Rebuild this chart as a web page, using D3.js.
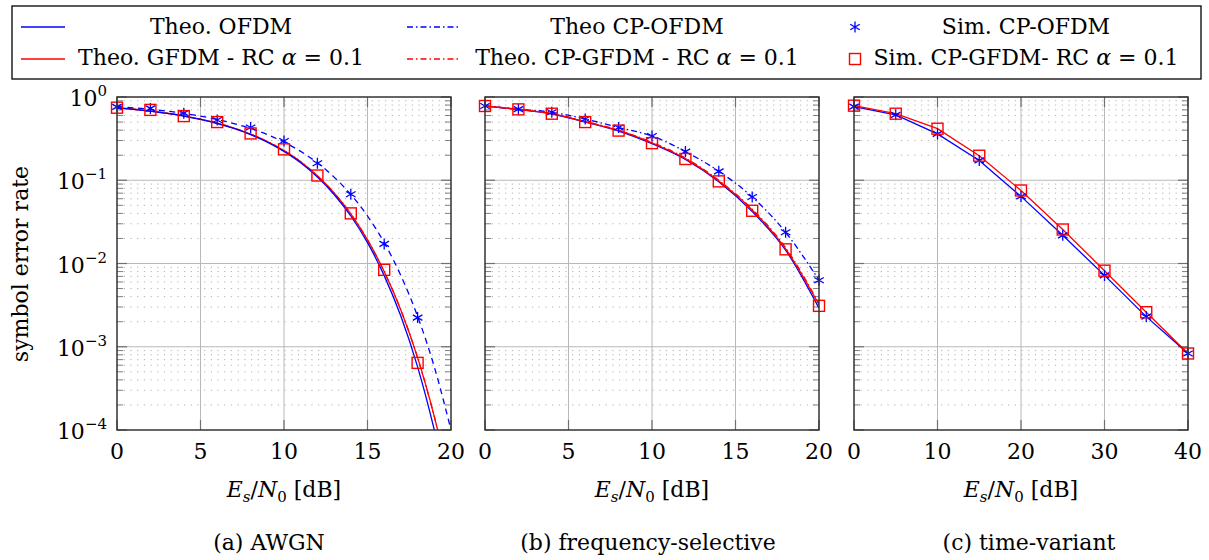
<!DOCTYPE html>
<html><head><meta charset="utf-8">
<script src="https://cdn.jsdelivr.net/npm/d3@7"></script>
<style>
body{margin:0;background:#fff}
svg{display:block}
text{font-family:"DejaVu Serif",serif;fill:#000}
</style>
</head><body>
<svg id="c" width="1209" height="560"></svg>
<script>
// ---------------- data ----------------
// (a) AWGN, 1 dB grid
const snrA = [0,1,2,3,4,5,6,7,8,9,10,11,12,13,14,15,16,17,18,19,20];
const theoOfdmA   = [0.741,0.710,0.675,0.635,0.589,0.537,0.480,0.419,0.354,0.287,0.222,0.162,0.109,0.0675,0.0372,0.0178,0.00715,0.00232,0.000574,0.000100,0.0000120];
const theoCpOfdmA = [0.768,0.741,0.710,0.675,0.635,0.589,0.537,0.480,0.419,0.354,0.287,0.222,0.162,0.109,0.0675,0.0372,0.0178,0.00715,0.00232,0.000574,0.000100];
const theoGfdmA   = [0.745,0.713,0.678,0.638,0.592,0.541,0.484,0.423,0.358,0.292,0.227,0.167,0.113,0.0705,0.0395,0.0192,0.0080,0.00275,0.00074,0.000145,0.000021];
const theoCpGfdmA = [0.745,0.713,0.678,0.638,0.592,0.541,0.484,0.423,0.358,0.292,0.227,0.167,0.113,0.0705,0.0395,0.0192,0.0080,0.00275,0.00074,0.000145,0.000021];
const simSnrA = [0,2,4,6,8,10,12,14,16,18];
const simCpOfdmA = [0.76,0.73,0.64,0.53,0.43,0.296,0.16,0.068,0.0172,0.00224];
const simCpGfdmA = [0.744,0.70,0.59,0.50,0.365,0.235,0.114,0.040,0.0084,0.00064];

// (b) frequency-selective, 2 dB grid
const snrB = [0,2,4,6,8,10,12,14,16,18,20];
const theoOfdmB   = [0.775,0.705,0.625,0.50,0.39,0.275,0.178,0.096,0.042,0.0145,0.0029];
const theoCpOfdmB = [0.78,0.715,0.656,0.545,0.43,0.34,0.221,0.128,0.063,0.0237,0.0063];
const theoGfdmB   = [0.78,0.71,0.63,0.505,0.397,0.281,0.182,0.098,0.044,0.0150,0.0032];
const theoCpGfdmB = [0.78,0.71,0.635,0.51,0.40,0.285,0.185,0.100,0.045,0.0155,0.0033];
const simCpOfdmB  = [0.78,0.715,0.656,0.545,0.43,0.34,0.221,0.128,0.063,0.0237,0.0063];
const simCpGfdmB  = [0.78,0.71,0.63,0.50,0.395,0.279,0.18,0.097,0.043,0.0148,0.0031];

// (c) time-variant, 5 dB grid
const snrC = [0,5,10,15,20,25,30,35,40];
const simCpOfdmC = [0.767,0.61,0.36,0.173,0.064,0.0218,0.0072,0.0023,0.00083];
const simCpGfdmC = [0.787,0.63,0.416,0.197,0.0753,0.0256,0.0082,0.0026,0.00083];

const xTicksAB = [0,5,10,15,20];
const xTicksC = [0,10,20,30,40];
const yDecades = [1e-4,1e-3,1e-2,1e-1,1];
const yTickExp = ["−4","−3","−2","−1","0"];
const captions = ["(a) AWGN","(b) frequency-selective","(c) time-variant"];

const BLUE = "#0000ff", RED = "#ff0000";
const svg = d3.select("#c");
const FS = 22, FSS = 15;

const yTop = 97, yBot = 430;
const y = d3.scaleLog().domain([1e-4,1]).range([yBot, yTop]);

const panels = [
  {left:117, right:451, domain:[0,20], ticks:xTicksAB, capX:269,
   lines:[
     {x:snrA, y:theoCpOfdmA, color:BLUE, dash:"6,4.5"},
     {x:snrA, y:theoGfdmA, color:RED, dash:null},
     {x:snrA, y:theoCpGfdmA, color:RED, dash:"6,3,1.5,3"},
     {x:snrA, y:theoOfdmA, color:BLUE, dash:null}
   ],
   stars:{x:simSnrA, y:simCpOfdmA}, squares:{x:simSnrA, y:simCpGfdmA}, curve:d3.curveMonotoneX},
  {left:485, right:819, domain:[0,20], ticks:xTicksAB, capX:648,
   lines:[
     {x:snrB, y:theoCpOfdmB, color:BLUE, dash:"6,3,1.5,3"},
     {x:snrB, y:theoOfdmB, color:BLUE, dash:null},
     {x:snrB, y:theoGfdmB, color:RED, dash:null},
     {x:snrB, y:theoCpGfdmB, color:RED, dash:"6,3,1.5,3"}
   ],
   stars:{x:snrB, y:simCpOfdmB}, squares:{x:snrB, y:simCpGfdmB}, curve:d3.curveMonotoneX},
  {left:854, right:1188, domain:[0,40], ticks:xTicksC, capX:1029,
   lines:[
     {x:snrC, y:simCpOfdmC, color:BLUE, dash:null},
     {x:snrC, y:simCpGfdmC, color:RED, dash:null}
   ],
   stars:{x:snrC, y:simCpOfdmC}, squares:{x:snrC, y:simCpGfdmC}, curve:d3.curveLinear}
];

function starPath(r){
  const a = Math.PI/6, c = Math.cos(a)*r, s = Math.sin(a)*r;
  return `M0,${-r}L0,${r}M${-c},${-s}L${c},${s}M${-c},${s}L${c},${-s}`;
}
function drawStar(g, cx, cy){
  g.append("path").attr("d", starPath(5.5)).attr("transform",`translate(${cx},${cy})`)
    .attr("stroke",BLUE).attr("stroke-width",1.3).attr("fill","none");
}
function drawSquare(g, cx, cy){
  g.append("rect").attr("x",cx-5.5).attr("y",cy-5.5).attr("width",11).attr("height",11)
    .attr("stroke",RED).attr("stroke-width",1.4).attr("fill","none");
}

panels.forEach((p, i) => {
  const x = d3.scaleLinear().domain(p.domain).range([p.left, p.right]);
  const g = svg.append("g");
  const minors = [];
  [-4,-3,-2,-1].forEach(e => { for (let m=2;m<=9;m++) minors.push(m*Math.pow(10,e)); });
  g.selectAll("line.minor").data(minors).enter().append("line")
    .attr("x1",p.left).attr("x2",p.right).attr("y1",d=>y(d)).attr("y2",d=>y(d))
    .attr("stroke","#b0b0b0").attr("stroke-width",1).attr("stroke-dasharray","1.2,5.5");
  g.selectAll("line.hmaj").data(yDecades.slice(1,4)).enter().append("line")
    .attr("x1",p.left).attr("x2",p.right).attr("y1",d=>y(d)).attr("y2",d=>y(d))
    .attr("stroke","#b8b8b8").attr("stroke-width",1);
  g.selectAll("line.vmaj").data(p.ticks.slice(1,-1)).enter().append("line")
    .attr("x1",d=>x(d)).attr("x2",d=>x(d)).attr("y1",yTop).attr("y2",yBot)
    .attr("stroke","#b8b8b8").attr("stroke-width",1);
  minors.forEach(v => {
    [[p.left,p.left+6],[p.right,p.right-6]].forEach(([a,b]) =>
      g.append("line").attr("x1",a).attr("x2",b).attr("y1",y(v)).attr("y2",y(v))
        .attr("stroke","#808080").attr("stroke-width",1));
  });
  yDecades.forEach(v => {
    [[p.left,p.left+10],[p.right,p.right-10]].forEach(([a,b]) =>
      g.append("line").attr("x1",a).attr("x2",b).attr("y1",y(v)).attr("y2",y(v))
        .attr("stroke","#707070").attr("stroke-width",1.2));
  });
  p.ticks.forEach(v => {
    [[yBot,yBot-10],[yTop,yTop+10]].forEach(([a,b]) =>
      g.append("line").attr("x1",x(v)).attr("x2",x(v)).attr("y1",a).attr("y2",b)
        .attr("stroke","#707070").attr("stroke-width",1.2));
  });
  const cid = "clip"+i;
  svg.append("clipPath").attr("id",cid).append("rect")
    .attr("x",p.left).attr("y",yTop).attr("width",p.right-p.left).attr("height",yBot-yTop);
  const lg = g.append("g").attr("clip-path",`url(#${cid})`);
  p.lines.forEach(L => {
    const pts = L.x.map((v,k)=>[v, L.y[k]]);
    const line = d3.line().x(d=>x(d[0])).y(d=>y(d[1])).curve(p.curve);
    lg.append("path").attr("d", line(pts)).attr("fill","none")
      .attr("stroke",L.color).attr("stroke-width",1.3)
      .attr("stroke-dasharray", L.dash);
  });
  p.stars.x.forEach((v,k) => drawStar(g, x(v), y(p.stars.y[k])));
  p.squares.x.forEach((v,k) => drawSquare(g, x(v), y(p.squares.y[k])));
  g.append("rect").attr("x",p.left).attr("y",yTop).attr("width",p.right-p.left).attr("height",yBot-yTop)
    .attr("fill","none").attr("stroke","#333").attr("stroke-width",1.5);
  g.selectAll("text.xt").data(p.ticks).enter().append("text")
    .attr("x",d=>x(d)).attr("y",459).attr("text-anchor","middle")
    .attr("font-size",FS).text(d=>d);
  const xt = g.append("text").attr("x",(p.left+p.right)/2).attr("y",497)
    .attr("text-anchor","middle").attr("font-size",FS);
  xt.append("tspan").attr("font-style","italic").text("E");
  xt.append("tspan").attr("font-style","italic").attr("font-size",FSS).attr("dy",5).text("s");
  xt.append("tspan").attr("dy",-5).text("/");
  xt.append("tspan").attr("font-style","italic").text("N");
  xt.append("tspan").attr("font-size",FSS).attr("dy",5).text("0");
  xt.append("tspan").attr("dy",-5).text(" [dB]");
  g.append("text").attr("x",p.capX).attr("y",550).attr("text-anchor","middle")
    .attr("font-size",FS).text(captions[i]);
});

yDecades.forEach((v,k) => {
  const t = svg.append("text").attr("x",107).attr("y",y(v)+9).attr("text-anchor","end").attr("font-size",FS);
  t.append("tspan").text("10");
  t.append("tspan").attr("font-size",FSS).attr("dy",-10).text(yTickExp[k]);
});
svg.append("text").attr("transform","translate(28,264) rotate(-90)").attr("text-anchor","middle")
  .attr("font-size",FS).text("symbol error rate");

// ---------------- legend ----------------
const lgd = svg.append("g");
lgd.append("rect").attr("x",12).attr("y",6).attr("width",1189).attr("height",73)
  .attr("fill","#fff").attr("stroke","#000").attr("stroke-width",1.3);
const legendItems = [
  {row:0,col:0,type:"line",color:BLUE,dash:null,label:["Theo. OFDM"]},
  {row:0,col:1,type:"line",color:BLUE,dash:"6,3,1.5,3",label:["Theo CP-OFDM"]},
  {row:0,col:2,type:"star",label:["Sim. CP-OFDM"]},
  {row:1,col:0,type:"line",color:RED,dash:null,label:["Theo. GFDM - RC ","α"," = 0.1"]},
  {row:1,col:1,type:"line",color:RED,dash:"6,3,1.5,3",label:["Theo. CP-GFDM - RC ","α"," = 0.1"]},
  {row:1,col:2,type:"square",label:["Sim. CP-GFDM- RC ","α"," = 0.1"]}
];
const colSample = [[21,65],[407,461],[855,855]];
const colText = [221,637,1026];
const rowLineY = [27,59], rowBase = [34,65];
legendItems.forEach(it => {
  const ly = rowLineY[it.row];
  if (it.type==="line") {
    lgd.append("line").attr("x1",colSample[it.col][0]).attr("x2",colSample[it.col][1])
      .attr("y1",ly).attr("y2",ly).attr("stroke",it.color).attr("stroke-width",1.3)
      .attr("stroke-dasharray",it.dash);
  } else if (it.type==="star") drawStar(lgd, colSample[it.col][0], ly);
  else drawSquare(lgd, colSample[it.col][0], ly);
  const t = lgd.append("text").attr("x",colText[it.col]).attr("y",rowBase[it.row])
    .attr("text-anchor","middle").attr("font-size",FS);
  it.label.forEach((s,k) => t.append("tspan").attr("font-style", s==="α"?"italic":null).text(s));
});
</script>
</body></html>
